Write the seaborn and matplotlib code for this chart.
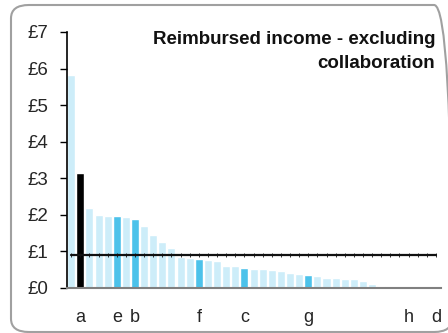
import matplotlib
matplotlib.use("Agg")
import matplotlib.pyplot as plt
from matplotlib.patches import FancyBboxPatch
import seaborn as sns
import pandas as pd

sns.set_theme(style="white")
plt.rcParams['font.family'] = ['Liberation Sans', 'DejaVu Sans']

values = [5.82, 3.14, 2.19, 1.99, 1.97, 1.97, 1.94, 1.89, 1.69, 1.45,
          1.26, 1.09, 0.86, 0.83, 0.79, 0.77, 0.74, 0.60, 0.60, 0.55,
          0.52, 0.52, 0.49, 0.46, 0.41, 0.38, 0.35, 0.33, 0.27, 0.27,
          0.25, 0.25, 0.19, 0.11, 0.05, 0.0, 0.0, 0.0, 0.0, 0.0, 0.0]
labels = ["", "a", "", "", "", "e", "", "b", "", "", "", "", "", "", "f",
          "", "", "", "", "c", "", "", "", "", "", "", "g", "", "", "", "",
          "", "", "", "", "", "", "h", "", "", "d"]
groups = ["other", "black", "other", "other", "other", "blue", "other", "blue",
          "other", "other", "other", "other", "other", "other", "blue",
          "other", "other", "other", "other", "blue", "other", "other", "other",
          "other", "other", "other", "blue", "other", "other", "other", "other",
          "other", "other", "other", "other", "other", "other", "blue", "other",
          "other", "blue"]
average = 0.89
yticks = [0, 1, 2, 3, 4, 5, 6, 7]
title = "Reimbursed income - excluding\ncollaboration"

palette = {"other": "#cdedf9", "blue": "#4cc2ea", "black": "#000000"}

n = len(values)
df = pd.DataFrame({"pos": [str(i) for i in range(n)], "value": values, "group": groups})

W, H = 448, 333
fig = plt.figure(figsize=(W / 100, H / 100), dpi=100)
fig.patch.set_facecolor("white")

frame = FancyBboxPatch((11 / W, 1 - 332 / H), (452 - 11) / W, (332 - 5) / H,
                       boxstyle="round,pad=0,rounding_size=0.04",
                       transform=fig.transFigure, facecolor="none",
                       edgecolor="#a0a0a0", linewidth=1.5, clip_on=False,
                       zorder=-5)
fig.patches.append(frame)

ax = fig.add_axes([66.6 / W, 1 - 288 / H, (440.5 - 66.6) / W, (288 - 32) / H])
ax.set_facecolor("none")

sns.barplot(data=df, x="pos", y="value", hue="group", palette=palette,
            dodge=False, width=0.88, legend=False, ax=ax, saturation=1)

ax.plot(range(n), [average] * n, color="#111111", linewidth=1.6,
        marker="|", markersize=3, markeredgewidth=0.6, zorder=5)

ax.set_xlim(-0.5, n - 0.5)
ax.set_ylim(0, 7)
ax.set_yticks(yticks)
ax.set_yticklabels([f"£{v}" for v in yticks], fontsize=13.5)
ax.set_xticks(range(n))
ax.set_xticklabels(labels, fontsize=13)
ax.set_xlabel("")
ax.set_ylabel("")
ax.tick_params(axis="y", length=5, width=1, color="black", pad=8, left=True)
ax.tick_params(axis="x", length=0, pad=15)

for s in ["top", "right"]:
    ax.spines[s].set_visible(False)
ax.spines["left"].set_color("black")
ax.spines["left"].set_linewidth(1.2)
ax.spines["bottom"].set_color("#808080")
ax.spines["bottom"].set_linewidth(1.5)

fig.text(435 / W, 1 - 31 / H, title, ha="right", va="top", fontsize=13.5,
         fontweight="bold", linespacing=1.55, color="#111111")

fig.savefig("out.png", dpi=100)
